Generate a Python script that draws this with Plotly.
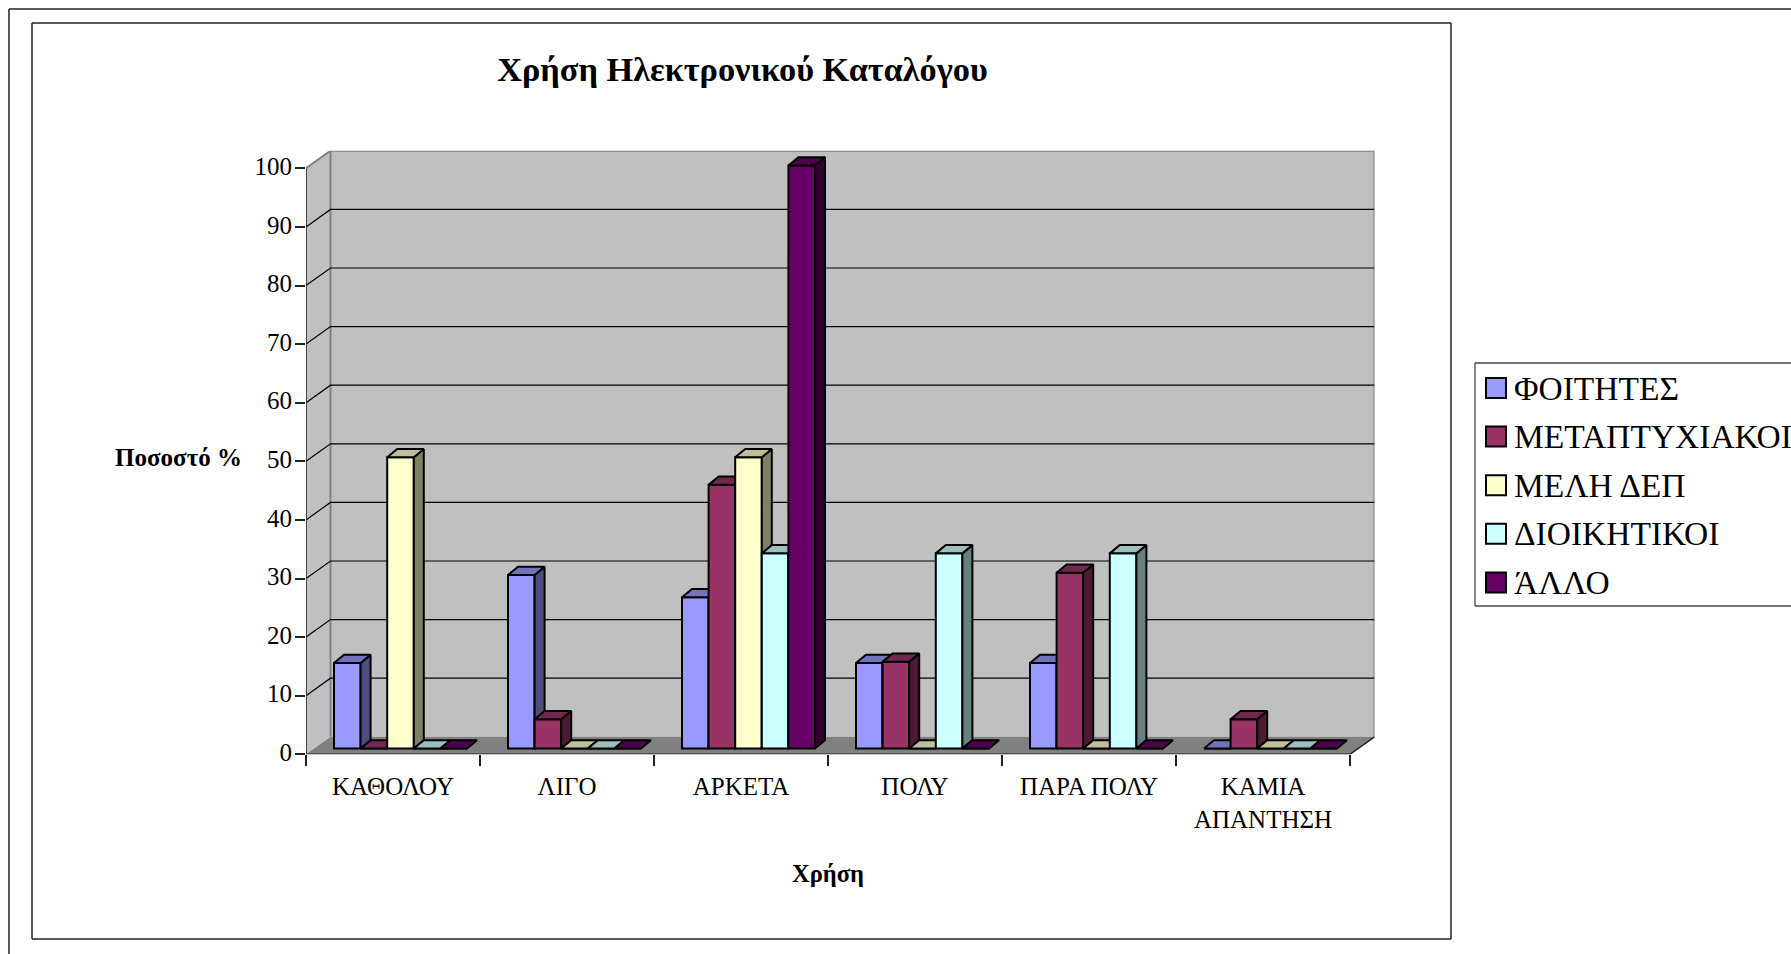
import plotly.graph_objects as go

# ---- data ----
categories = ["ΚΑΘΟΛΟΥ", "ΛΙΓΟ", "ΑΡΚΕΤΑ", "ΠΟΛΥ", "ΠΑΡΑ ΠΟΛΥ", "ΚΑΜΙΑ<br>ΑΠΑΝΤΗΣΗ"]
series_names = ["ΦΟΙΤΗΤΕΣ", "ΜΕΤΑΠΤΥΧΙΑΚΟΙ", "ΜΕΛΗ ΔΕΠ", "ΔΙΟΙΚΗΤΙΚΟΙ", "ΆΛΛΟ"]
foitites = [14.6, 29.6, 25.8, 14.6, 14.6, 0]
metaptyxiakoi = [0, 5, 45, 14.8, 30, 5]
meli_dep = [49.7, 0, 49.7, 0, 0, 0]
dioikitikoi = [0, 0, 33.3, 33.3, 33.3, 0]
allo = [0, 0, 99.5, 0, 0, 0]
y_ticks = [0, 10, 20, 30, 40, 50, 60, 70, 80, 90, 100]
title_text = "Χρήση Ηλεκτρονικού Καταλόγου"
x_title = "Χρήση"
y_title = "Ποσοστό %"

series_values = [foitites, metaptyxiakoi, meli_dep, dioikitikoi, allo]
front_colors = ["#9999FF", "#993366", "#FFFFCC", "#CCFFFF", "#660066"]
top_colors = ["#7373BF", "#732650", "#BFBF99", "#99BFBF", "#4D004D"]
side_colors = ["#4D4D80", "#4D1A33", "#808066", "#668080", "#330033"]

W, H = 1791, 954
FONT = "Liberation Serif"
# pixel geometry of the front plane
X0, Y0 = 306.0, 754.3
CAT_PX = 174.0
UNIT_PX = 5.86
WALL_DX, WALL_DY = 24.5, 17.5      # chart depth, px
BAR_DX, BAR_DY = 10.0, 8.3         # bar depth, px
BAR_BASE_PX = 5.8                  # bars stand slightly behind the front edge
BAR_LEFT_PX = 28.0
BAR_W_PX = 26.6


def px(x):
    return x / W


def py(y):
    return 1 - y / H


cdx, udy = WALL_DX / CAT_PX, WALL_DY / UNIT_PX
bdx, bdy = BAR_DX / CAT_PX, BAR_DY / UNIT_PX
base = BAR_BASE_PX / UNIT_PX
n = len(categories)
x_max = n + cdx
y_top = 100 + udy

fig = go.Figure()
GRAY = "#808080"
# wall and floor frame lines
fig.add_trace(go.Scatter(x=[0, cdx, x_max], y=[100, y_top, y_top], mode="lines",
                         line=dict(color=GRAY, width=2), showlegend=False, hoverinfo="skip", cliponaxis=False))
fig.add_trace(go.Scatter(x=[cdx, cdx, None, x_max, x_max], y=[y_top, udy, None, y_top, udy], mode="lines",
                         line=dict(color=GRAY, width=2), showlegend=False, hoverinfo="skip", cliponaxis=False))
# gridlines following the side wall and back wall
gx, gy = [], []
for t in y_ticks[1:-1]:
    gx += [0, cdx, x_max, None]
    gy += [t, t + udy, t + udy, None]
fig.add_trace(go.Scatter(x=gx, y=gy, mode="lines", line=dict(color="#000000", width=1.2),
                         showlegend=False, hoverinfo="skip", cliponaxis=False))
# front axis lines
fig.add_trace(go.Scatter(x=[0, 0, None, 0, n, x_max], y=[100, 0, None, 0, 0, udy], mode="lines",
                         line=dict(color="#222222", width=1.5), showlegend=False, hoverinfo="skip", cliponaxis=False))

shapes = [
    dict(type="path", xref="x", yref="y", layer="below", line=dict(width=0), fillcolor="#C0C0C0",
         path=f"M0,0 L{cdx},{udy} L{x_max},{udy} L{x_max},{y_top} L{cdx},{y_top} L0,100 Z"),
    dict(type="path", xref="x", yref="y", layer="below", line=dict(width=0), fillcolor=GRAY,
         path=f"M0,0 L{cdx},{udy} L{x_max},{udy} L{n},0 Z"),
]


def frame_line(x1, y1, x2, y2, color="#222222", width=1.5):
    shapes.append(dict(type="line", xref="paper", yref="paper", x0=px(x1), y0=py(y1), x1=px(x2), y1=py(y2),
                       line=dict(color=color, width=width)))


# outer page rule (top and left only)
frame_line(9, 9, W, 9)
frame_line(9, 9, 9, H)
# chart frame
for a in [(32, 23, 1451, 23), (1451, 23, 1451, 939), (1451, 939, 32, 939), (32, 939, 32, 23)]:
    frame_line(*a)
# legend frame
for a in [(1475, 363, W, 363), (1475, 363, 1475, 606), (1475, 606, W, 606)]:
    frame_line(*a, color="#444444", width=1.3)

w = BAR_W_PX / CAT_PX
left = BAR_LEFT_PX / CAT_PX
axes_layout = {}
for k, (name, vals) in enumerate(zip(series_names, series_values)):
    ax = k + 2
    xa, ya = f"x{ax}", f"y{ax}"
    axes_layout[f"xaxis{ax}"] = dict(overlaying="x", range=[0, x_max], domain=[px(X0), px(X0 + x_max * CAT_PX)],
                                     visible=False, fixedrange=True)
    axes_layout[f"yaxis{ax}"] = dict(overlaying="y", range=[0, y_top], visible=False, fixedrange=True)
    centres = [i + 0.5 for i in range(n)]
    fig.add_trace(go.Bar(x=centres, y=vals, base=[base] * n, width=[w] * n,
                         offset=[left - 0.5 + k * w] * n, name=name, xaxis=xa, yaxis=ya,
                         marker=dict(color=front_colors[k], line=dict(color="#000000", width=2)),
                         showlegend=False, hoverinfo="skip"))
    tx, ty, sx, sy = [], [], [], []
    for i, v in enumerate(vals):
        l = i + left + k * w
        r = l + w
        b = base
        t = base + v
        tx += [l, l + bdx, r + bdx, r, l, None]
        ty += [t, t + bdy, t + bdy, t, t, None]
        if v > 0:
            sx += [r, r + bdx, r + bdx, r, r, None]
            sy += [b, b + bdy, t + bdy, t, b, None]
    fig.add_trace(go.Scatter(x=sx, y=sy, mode="lines", fill="toself", fillcolor=side_colors[k],
                             line=dict(color="#000000", width=2), xaxis=xa, yaxis=ya,
                             showlegend=False, hoverinfo="skip"))
    fig.add_trace(go.Scatter(x=tx, y=ty, mode="lines", fill="toself", fillcolor=top_colors[k],
                             line=dict(color="#000000", width=2), xaxis=xa, yaxis=ya,
                             showlegend=False, hoverinfo="skip"))

# legend, built from the series lists
annotations = []
LEG_Y0, LEG_STEP = 388, 48.6
for k, name in enumerate(series_names):
    yc = LEG_Y0 + k * LEG_STEP
    shapes.append(dict(type="rect", xref="paper", yref="paper", x0=px(1486), x1=px(1506), y0=py(yc - 10), y1=py(yc + 10),
                       fillcolor=front_colors[k], line=dict(color="#000000", width=2)))
    annotations.append(dict(text=name, xref="paper", yref="paper", x=px(1512), y=py(yc), xanchor="left", yanchor="middle",
                            showarrow=False, font=dict(family=FONT, size=33.5, color="#000000")))

annotations.append(dict(text=f"<b>{y_title}</b>", xref="paper", yref="paper", x=px(178), y=py(457),
                        xanchor="center", yanchor="middle", showarrow=False,
                        font=dict(family=FONT, size=25, color="#000000")))
annotations.append(dict(text=f"<b>{x_title}</b>", xref="paper", yref="paper", x=px(828), y=py(873),
                        xanchor="center", yanchor="middle", showarrow=False,
                        font=dict(family=FONT, size=24.5, color="#000000")))

fig.update_layout(
    width=W, height=H, margin=dict(l=0, r=0, t=0, b=0, autoexpand=False), autosize=False,
    paper_bgcolor="#FFFFFF", plot_bgcolor="rgba(0,0,0,0)",
    showlegend=False, barmode="overlay", shapes=shapes, annotations=annotations,
    title=dict(text=f"<b>{title_text}</b>", x=742.5 / W, y=py(69), xanchor="center", yanchor="middle",
               font=dict(family=FONT, size=34.3, color="#000000")),
    font=dict(family=FONT, color="#000000"),
    xaxis=dict(domain=[px(X0), px(X0 + x_max * CAT_PX)], range=[0, x_max], showgrid=False, zeroline=False,
               showline=False, tickmode="array", tickvals=[i + 0.5 for i in range(n)], ticktext=categories,
               ticks="", ticklabelstandoff=15, tickfont=dict(family=FONT, size=25, color="#000000"),
               minor=dict(tickmode="array", tickvals=list(range(n + 1)), ticks="outside", ticklen=11, tickwidth=1.5,
                          tickcolor="#222222", showgrid=False),
               fixedrange=True, anchor="y"),
    yaxis=dict(domain=[py(Y0), py(Y0 - y_top * UNIT_PX)], range=[0, y_top], showgrid=False, zeroline=False,
               showline=False, tickmode="array", tickvals=y_ticks, ticktext=[str(t) for t in y_ticks],
               ticks="outside", ticklen=10, tickwidth=1.5, tickcolor="#222222", ticklabelstandoff=-2, ticklabelshift=-2,
               tickfont=dict(family=FONT, size=25, color="#000000"), fixedrange=True, anchor="x"),
    **axes_layout,
)

fig.write_html("out.html", config={"displayModeBar": False},
               post_script="document.body.style.margin='0';document.body.style.overflow='hidden';")
